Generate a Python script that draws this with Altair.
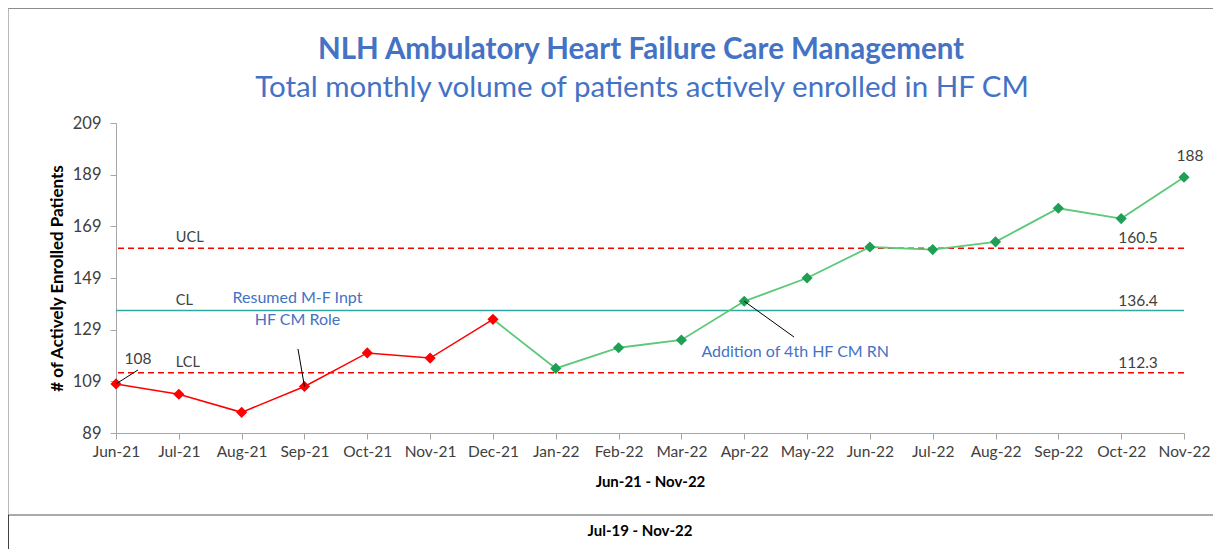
import altair as alt
import pandas as pd

months = ["Jun-21", "Jul-21", "Aug-21", "Sep-21", "Oct-21", "Nov-21", "Dec-21",
          "Jan-22", "Feb-22", "Mar-22", "Apr-22", "May-22", "Jun-22", "Jul-22",
          "Aug-22", "Sep-22", "Oct-22", "Nov-22"]
values = [108, 104, 97, 107, 120, 118, 133, 114, 122, 125, 140, 149, 161, 160,
          163, 176, 172, 188]
phase = ["before"] * 7 + ["after"] * 11

ctrl_names = ["UCL", "CL", "LCL"]
ctrl_values = [160.5, 136.4, 112.3]
ctrl_styles = ["limit", "center", "limit"]

y_ticks = [89, 109, 129, 149, 169, 189, 209]

title_text = "NLH Ambulatory Heart Failure Care Management"
subtitle_text = "Total monthly volume of patients actively enrolled in HF CM"
x_title = "Jun-21 - Nov-22"
y_title = "# of Actively Enrolled Patients"
footer_text = "Jul-19 - Nov-22"

FONT = "Lato"
BLUE = "#4472C4"
TXT = "#404040"
W, H = 1068, 310

df = pd.DataFrame({"month": months, "value": values, "phase": phase})
seg_red = df.iloc[0:7].copy()
seg_red["seg"] = "red"
seg_green = df.iloc[6:].copy()
seg_green["seg"] = "green"
lines_df = pd.concat([seg_red, seg_green])

ctrl_df = pd.DataFrame({"name": ctrl_names, "value": ctrl_values, "style": ctrl_styles})
ctrl_df["label"] = ctrl_df["value"].map(lambda v: f"{v:.1f}")

xs = alt.X("month:N", scale=alt.Scale(type="point", padding=0, domain=months),
           axis=alt.Axis(title=x_title, labelAngle=0, labelFont=FONT, labelFontSize=15.5,
                         labelColor=TXT, titleFont=FONT, titleFontSize=15,
                         titleFontWeight="bold", titleColor="#000000", tickSize=6,
                         labelPadding=5, titlePadding=15, domainColor="#A6A6A6",
                         tickColor="#A6A6A6", grid=False))
ys = alt.Y("value:Q", scale=alt.Scale(domain=[89, 209], nice=False, zero=False),
           axis=alt.Axis(title=y_title, values=y_ticks, labelFont=FONT, labelFontSize=16.5,
                         labelColor=TXT, titleFont=FONT, titleFontSize=17,
                         titleFontWeight="bold", titleColor="#000000", tickSize=6,
                         labelPadding=9, titlePadding=6, domainColor="#A6A6A6",
                         tickColor="#A6A6A6", grid=False))

base = alt.Chart(lines_df)

red_line = base.transform_filter(alt.datum.seg == "red").mark_line(
    color="#FF0000", strokeWidth=1.5).encode(x=xs, y=ys)
green_line = base.transform_filter(alt.datum.seg == "green").mark_line(
    color="#5CC878", strokeWidth=1.8).encode(x=xs, y=ys)

points = alt.Chart(df).mark_point(shape="diamond", filled=True, size=125, opacity=1).encode(
    x=xs, y=ys,
    color=alt.Color("phase:N", scale=alt.Scale(domain=["before", "after"],
                                               range=["#FF0000", "#1F9E55"]), legend=None))

limit_rules = alt.Chart(ctrl_df).transform_filter(alt.datum.style == "limit").mark_rule(
    color="#FF0000", strokeWidth=1.5, strokeDash=[6, 4]).encode(y=alt.Y("value:Q"))
center_rule = alt.Chart(ctrl_df).transform_filter(alt.datum.style == "center").mark_rule(
    color="#2EA8A0", strokeWidth=1.5).encode(y=alt.Y("value:Q"))

ctrl_names_txt = alt.Chart(ctrl_df).transform_calculate(month="'Jul-21'").mark_text(
    align="left", baseline="middle", dx=-3, dy=-10, font=FONT, fontSize=14.5, color=TXT
).encode(x=xs, y=alt.Y("value:Q"), text="name:N")
ctrl_vals_txt = alt.Chart(ctrl_df).transform_calculate(month="'Oct-22'").mark_text(
    align="left", baseline="middle", dx=-3, dy=-10, font=FONT, fontSize=15.5, color=TXT
).encode(x=xs, y=alt.Y("value:Q"), text="label:N")

first_df = df.iloc[[0]]
last_df = df.iloc[[-1]]
sep_df = df[df.month == "Sep-21"]
apr_df = df[df.month == "Apr-22"]

lbl_first = alt.Chart(first_df).mark_text(
    dx=22, dy=-25, font=FONT, fontSize=15.5, color=TXT).encode(x=xs, y=ys, text="value:Q")
lbl_last = alt.Chart(last_df).mark_text(
    dx=6, dy=-21, font=FONT, fontSize=15.5, color=TXT).encode(x=xs, y=ys, text="value:Q")

lead_first = alt.Chart(first_df).mark_rule(color="#000000", strokeWidth=1).encode(
    x=xs, y=ys, x2=alt.value(22), y2=alt.value(247))
lead_sep = alt.Chart(sep_df).mark_rule(color="#000000", strokeWidth=1).encode(
    x=xs, y=ys, x2=alt.value(182), y2=alt.value(226))
lead_apr = alt.Chart(apr_df).mark_rule(color="#000000", strokeWidth=1).encode(
    x=xs, y=ys, x2=alt.value(678), y2=alt.value(214))

ann_sep1 = alt.Chart(sep_df).mark_text(
    dx=-7, dy=-89, font=FONT, fontSize=16, color=BLUE).encode(x=xs, y=ys, text=alt.value("Resumed M-F Inpt"))
ann_sep2 = alt.Chart(sep_df).mark_text(
    dx=-7, dy=-67, font=FONT, fontSize=16, color=BLUE).encode(x=xs, y=ys, text=alt.value("HF CM Role"))
ann_apr = alt.Chart(apr_df).mark_text(
    dx=51, dy=51, font=FONT, fontSize=16, color=BLUE).encode(x=xs, y=ys, text=alt.value("Addition of 4th HF CM RN"))

title_mark = alt.Chart(first_df).mark_text(
    font=FONT, fontSize=29.5, fontWeight="bold", color=BLUE, baseline="middle").encode(
    x=alt.value(525), y=alt.value(-73), text=alt.value(title_text))
subtitle_mark = alt.Chart(first_df).mark_text(
    font=FONT, fontSize=29.5, color=BLUE, baseline="middle").encode(
    x=alt.value(526), y=alt.value(-35), text=alt.value(subtitle_text))
footer_mark = alt.Chart(first_df).mark_text(
    font=FONT, fontSize=15, fontWeight="bold", color="#000000", baseline="middle").encode(
    x=alt.value(524), y=alt.value(408), text=alt.value(footer_text))

frame_top = alt.Chart(first_df).mark_rule(color="#8C8C8C", strokeWidth=2).encode(
    x=alt.value(-108), x2=alt.value(1100), y=alt.value(-115))
frame_left = alt.Chart(first_df).mark_rule(color="#A0A0A0", strokeWidth=1.5).encode(
    x=alt.value(-108), y=alt.value(-115), y2=alt.value(392))
frame_mid = alt.Chart(first_df).mark_rule(color="#8C8C8C", strokeWidth=1.5).encode(
    x=alt.value(-108), x2=alt.value(1100), y=alt.value(392))
frame_low = alt.Chart(first_df).mark_rule(color="#000000", strokeWidth=1.5).encode(
    x=alt.value(-108), y=alt.value(392), y2=alt.value(430))

chart = alt.layer(
    frame_top, frame_left, frame_mid, frame_low,
    limit_rules, center_rule, red_line, green_line, points,
    ctrl_names_txt, ctrl_vals_txt, lead_first, lead_sep, lead_apr,
    lbl_first, lbl_last, ann_sep1, ann_sep2, ann_apr,
    title_mark, subtitle_mark, footer_mark
).properties(
    width=W, height=H,
    padding={"left": 108, "top": 115, "right": 29, "bottom": 116},
    autosize=alt.AutoSizeParams(type="none"),
    background="#FFFFFF"
).configure_view(strokeWidth=0)

chart.save("out.html", embed_options={"renderer": "svg", "actions": False})
